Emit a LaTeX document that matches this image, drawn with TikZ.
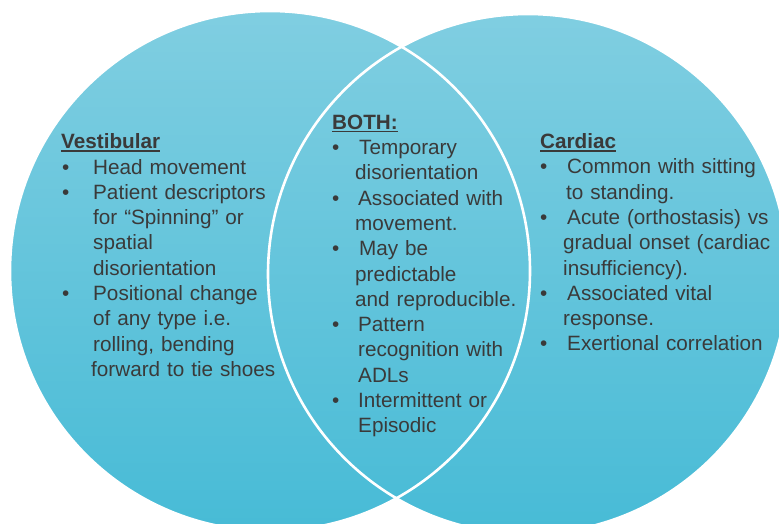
\documentclass[tikz,border=0pt]{standalone}
\usepackage{fontspec}
\setmainfont{Liberation Sans}
\definecolor{ink}{HTML}{3A3A3A}
\definecolor{skytop}{HTML}{80CEE1}
\definecolor{skybot}{HTML}{47BBD6}
% bullet line: bullet shifted by #1, text starting at #2
\newcommand\bit[2]{\makebox[#2][l]{\hspace*{#1}\textbullet}}
% continuation line indented to #1
\newcommand\cont[1]{\hspace*{#1}}
% heading with a heavier underline
\newcommand\head[1]{\textbf{#1}\llap{\rule[-3pt]{\widthof{\textbf{#1}}}{1.3pt}}}
\usepackage{calc}
\begin{document}
\begin{tikzpicture}[x=1pt,y=-1pt,
  venn/.style={top color=skytop,bottom color=skybot},
  rim/.style={draw=white,line width=2.6pt},
  block/.style={anchor=north west,inner sep=0pt,text width=300pt,align=left,
    text=ink,font=\fontsize{20.7}{25.3}\selectfont}]
\useasboundingbox (0,0) rectangle (779,523);
% the two sets
\path[venn] (270,271) circle[radius=260pt];
\path[venn] (528,274) circle[radius=260pt];
\path[rim] (270,271) circle[radius=260pt];
\path[rim] (528,274) circle[radius=260pt];
% left set
\node[block] (vest) at (61,130.8) {\strut\head{Vestibular}\\
\bit{1pt}{32pt}Head movement\\
\bit{1pt}{32pt}Patient descriptors\\
\cont{32pt}for “Spinning” or\\
\cont{32pt}spatial\\
\cont{32pt}disorientation\\
\bit{1pt}{32pt}Positional change\\
\cont{32pt}of any type i.e.\\
\cont{32pt}rolling, bending\\
\cont{30pt}forward to tie shoes};
% shared part
\node[block] (both) at (332,111.3) {\strut\head{BOTH:}\\
\bit{0pt}{27pt}Temporary\\
\cont{23pt}disorientation\\
\bit{0pt}{26pt}Associated with\\
\cont{23pt}movement.\\
\bit{0pt}{27pt}May be\\
\cont{23pt}predictable\\
\cont{23pt}and reproducible.\\
\bit{0pt}{26pt}Pattern\\
\cont{26pt}recognition with\\
\cont{26pt}ADLs\\
\bit{0pt}{26pt}Intermittent or\\
\cont{26pt}Episodic};
% right set
\node[block] (card) at (540,130.6) {\strut\head{Cardiac}\\
\bit{0pt}{27pt}Common with sitting\\
\cont{26pt}to standing.\\
\bit{0pt}{27pt}Acute (orthostasis) vs\\
\cont{23pt}gradual onset (cardiac\\
\cont{23pt}insufficiency).\\
\bit{0pt}{27pt}Associated vital\\
\cont{23pt}response.\\
\bit{0pt}{27pt}Exertional correlation};
\end{tikzpicture}
\end{document}
